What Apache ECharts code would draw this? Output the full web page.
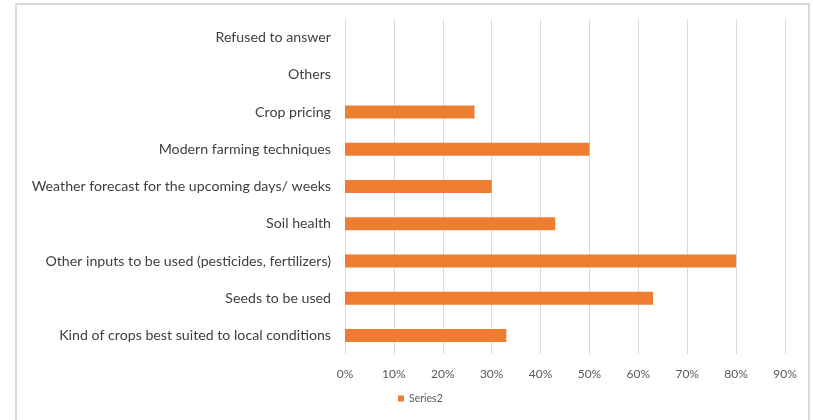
<!DOCTYPE html>
<html>
<head>
<meta charset="utf-8">
<script src="https://cdn.jsdelivr.net/npm/echarts@6/dist/echarts.min.js"></script>
<style>
  html, body { margin: 0; padding: 0; background: #fff; }
  #chart { width: 813px; height: 420px; }
</style>
</head>
<body>
<div id="chart"></div>
<script>
// Survey answers, listed bottom to top as drawn on the category axis
const categories = [
  'Kind of crops best suited to local conditions',
  'Seeds to be used',
  'Other inputs to be used (pesticides, fertilizers)',
  'Soil health',
  'Weather forecast for the upcoming days/ weeks',
  'Modern farming techniques',
  'Crop pricing',
  'Others',
  'Refused to answer'
];
// Share of respondents, in percent
const series2 = [33, 63, 80, 43, 30, 50, 26.5, 0, 0];
const seriesName = 'Series2';
const axisMax = 90;
const axisStep = 10;

const chart = echarts.init(document.getElementById('chart'), null, { renderer: 'canvas' });
const font = 'Lato, "Open Sans", sans-serif';

chart.setOption({
  animation: false,
  backgroundColor: '#ffffff',
  graphic: [{
    type: 'rect',
    shape: { x: 16, y: 4, width: 793, height: 420 },
    style: { fill: 'none', stroke: '#d9d9d9', lineWidth: 2 },
    silent: true,
    z: 0
  }],
  grid: { left: 345, right: 28, top: 19, bottom: 66, containLabel: false },
  legend: {
    data: [seriesName],
    bottom: 11,
    left: 393,
    icon: 'rect',
    itemWidth: 6,
    itemHeight: 6,
    itemGap: 4,
    textStyle: { color: '#595959', fontSize: 10.5, fontFamily: font }
  },
  xAxis: {
    type: 'value',
    min: 0,
    max: axisMax,
    interval: axisStep,
    axisLine: { show: false },
    axisTick: { show: false },
    splitLine: { show: true, lineStyle: { color: '#d9d9d9', width: 1 } },
    axisLabel: {
      color: '#595959',
      fontSize: 12,
      fontFamily: font,
      margin: 14,
      formatter: v => v + '%'
    }
  },
  yAxis: {
    type: 'category',
    data: categories,
    axisLine: { show: false },
    axisTick: { show: false },
    axisLabel: {
      color: '#404040',
      fontSize: 14.2,
      fontFamily: font,
      margin: 14
    }
  },
  series: [{
    name: seriesName,
    type: 'bar',
    data: series2,
    barWidth: 13,
    itemStyle: { color: '#ED7D31' }
  }]
});
</script>
</body>
</html>
